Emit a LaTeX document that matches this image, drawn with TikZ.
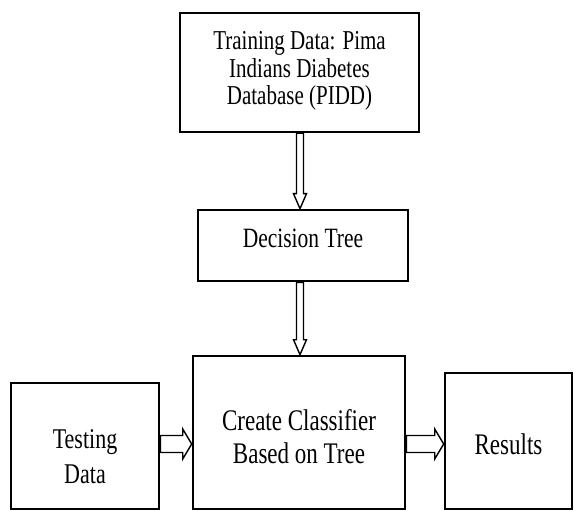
\documentclass[tikz,border=0pt]{standalone}
\usepackage{fontspec}
\usepackage{graphicx}
\setmainfont{Liberation Serif}
\usetikzlibrary{calc}
\newcommand\talltext[1]{\scalebox{1}[1.3]{\begin{tabular}{@{}c@{}}#1\end{tabular}}}
\begin{document}
\begin{tikzpicture}[x=1pt,y=-1pt,
  box/.style={draw=black, line width=2.6pt, rectangle, inner sep=0pt, fill=white},
  boxtext/.style={inner sep=0pt, align=center},
  blockarrow/.style={draw=black, line width=1.4pt, fill=white, line join=miter}]
\useasboundingbox (0,0) rectangle (574,511);
\fill[white] (0,0) rectangle (574,511);
% boxes
\node[box, minimum width=239pt, minimum height=119pt] (top) at (299.5,72.5) {};
\node[box, minimum width=210pt, minimum height=71pt] (dec) at (303,245.5) {};
\node[box, minimum width=212pt, minimum height=153pt] (cls) at (299,432.5) {};
\node[box, minimum width=148pt, minimum height=126pt] (test) at (85,446) {};
\node[box, minimum width=127pt, minimum height=136pt] (res) at (508.5,441) {};
% texts
\node[boxtext, font=\fontsize{21}{21.2}\selectfont] (toptext) at ($(top.center)+(0,-1)$)
  {\talltext{Training Data: Pima\\Indians Diabetes\\Database (PIDD)}};
\node[boxtext, font=\fontsize{21.5}{21.5}\selectfont] (dectext) at ($(dec.center)+(0,-4)$)
  {\talltext{Decision Tree}};
\node[boxtext, font=\fontsize{23}{25}\selectfont] (clstext) at ($(cls.center)+(0,8)$)
  {\talltext{Create Classifier\\Based on Tree}};
\node[boxtext, font=\fontsize{22}{27}\selectfont] (testtext) at ($(test.center)+(0,13)$)
  {\talltext{Testing\\Data}};
\node[boxtext, font=\fontsize{23}{23}\selectfont] (restext) at ($(res.center)+(0,8)$)
  {\talltext{Results}};
% axis coordinates for arrows
\coordinate (ax) at (300,0);
\coordinate (ay) at (0,444);
% vertical block arrows
\draw[blockarrow] ($(ax |- top.south)+(-3.5,0)$) -- ($(ax |- dec.north)+(-3.5,-15)$)
  -- ($(ax |- dec.north)+(-6.5,-15)$) -- (ax |- dec.north)
  -- ($(ax |- dec.north)+(6.5,-15)$) -- ($(ax |- dec.north)+(3.5,-15)$)
  -- ($(ax |- top.south)+(3.5,0)$) -- cycle;
\draw[blockarrow] ($(ax |- dec.south)+(-3.5,0)$) -- ($(ax |- cls.north)+(-3.5,-15)$)
  -- ($(ax |- cls.north)+(-6.5,-15)$) -- (ax |- cls.north)
  -- ($(ax |- cls.north)+(6.5,-15)$) -- ($(ax |- cls.north)+(3.5,-15)$)
  -- ($(ax |- dec.south)+(3.5,0)$) -- cycle;
% horizontal block arrows
\draw[blockarrow] ($(test.east |- ay)+(0,-8.5)$) -- ($(cls.west |- ay)+(-9,-8.5)$)
  -- ($(cls.west |- ay)+(-9,-15)$) -- (cls.west |- ay)
  -- ($(cls.west |- ay)+(-9,15)$) -- ($(cls.west |- ay)+(-9,8.5)$)
  -- ($(test.east |- ay)+(0,8.5)$) -- cycle;
\draw[blockarrow] ($(cls.east |- ay)+(0,-8.5)$) -- ($(res.west |- ay)+(-9,-8.5)$)
  -- ($(res.west |- ay)+(-9,-15)$) -- (res.west |- ay)
  -- ($(res.west |- ay)+(-9,15)$) -- ($(res.west |- ay)+(-9,8.5)$)
  -- ($(cls.east |- ay)+(0,8.5)$) -- cycle;
\end{tikzpicture}
\end{document}
